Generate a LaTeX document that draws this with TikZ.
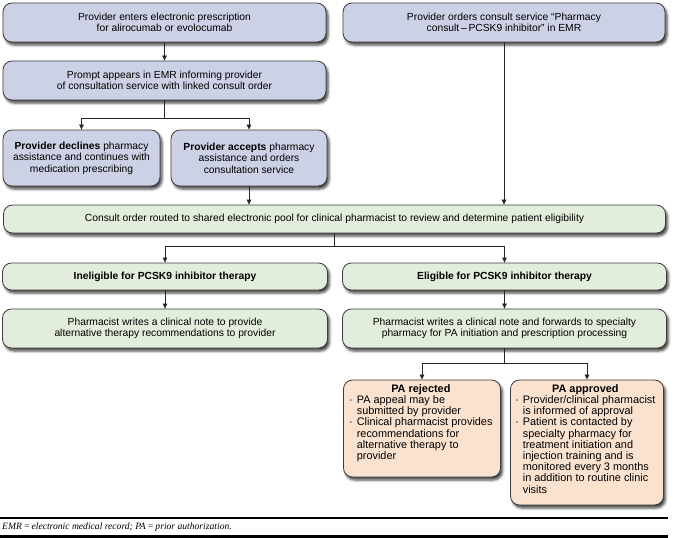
\documentclass[tikz,border=0pt]{standalone}
\usepackage{fontspec}
\setmainfont{Liberation Sans}
\newfontfamily\notefont{Liberation Serif}
\usetikzlibrary{arrows.meta,shadows.blur}
\definecolor{bluefill}{RGB}{204,209,229}
\definecolor{greenfill}{RGB}{227,237,219}
\definecolor{orangefill}{RGB}{250,226,207}
\definecolor{boxline}{RGB}{60,60,60}
\tikzset{
  box/.style={draw=boxline, line width=0.8pt, rounded corners=9pt, align=center, inner sep=2pt,
    font=\fontsize{10.3}{11.6}\selectfont,
    blur shadow={shadow xshift=2pt, shadow yshift=-3pt, shadow blur radius=2.5pt, shadow opacity=75}},
  bluebox/.style={box, fill=bluefill},
  greenbox/.style={box, fill=greenfill},
  orangebox/.style={box, fill=orangefill},
  arr/.style={-{Triangle[length=5pt,width=4.5pt]}, line width=0.7pt, draw=black!85},
  patext/.style={anchor=north west, inner sep=0pt, align=left, font=\fontsize{10.9}{11.1}\selectfont}
}
\newcommand{\pabul}{\textperiodcentered}
\begin{document}
\begin{tikzpicture}[x=1pt,y=-1pt]
\useasboundingbox (0,0) rectangle (673,538);
\node[bluebox, minimum width=323pt, minimum height=39pt] (A) at (164.5,22.5)
  {Provider enters electronic prescription\\for alirocumab or evolocumab};
\node[bluebox, minimum width=323pt, minimum height=39pt] (B) at (164.5,80.5)
  {Prompt appears in EMR informing provider\\of consultation service with linked consult order};
\node[bluebox, minimum width=157pt, minimum height=56pt] (C) at (81.5,158)
  {\textbf{Provider declines} pharmacy\\assistance and continues with\\medication prescribing};
\node[bluebox, minimum width=156pt, minimum height=56pt] (D) at (249,158)
  {\textbf{Provider accepts} pharmacy\\assistance and orders\\consultation service};
\node[bluebox, minimum width=322pt, minimum height=39pt] (E) at (504,22.5)
  {Provider orders consult service “Pharmacy\\consult\,–\,PCSK9 inhibitor” in EMR};
\node[greenbox, minimum width=662pt, minimum height=28pt] (F) at (334.5,219)
  {Consult order routed to shared electronic pool for clinical pharmacist to review and determine patient eligibility};
\node[greenbox, minimum width=325pt, minimum height=27pt] (G) at (165,276.5)
  {\textbf{Ineligible for PCSK9 inhibitor therapy}};
\node[greenbox, minimum width=324pt, minimum height=27pt] (H) at (504.5,276.5)
  {\textbf{Eligible for PCSK9 inhibitor therapy}};
\node[greenbox, minimum width=325pt, minimum height=39pt] (I) at (165,328.5)
  {Pharmacist writes a clinical note to provide\\alternative therapy recommendations to provider};
\node[greenbox, minimum width=324pt, minimum height=39pt] (J) at (504.5,328.5)
  {Pharmacist writes a clinical note and forwards to specialty\\pharmacy for PA initiation and prescription processing};
\node[orangebox, minimum width=157pt, minimum height=97pt] (K) at (422,428.5) {};
\node[orangebox, minimum width=153pt, minimum height=125pt] (L) at (587,442.5) {};
\node[patext] (Kt) at (349,384) {%
  \begin{tabular}{@{}l@{\hspace{4pt}}l@{}}
  \multicolumn{2}{c}{\textbf{PA rejected}}\\
  \pabul & PA appeal may be\\
         & submitted by provider\\
  \pabul & Clinical pharmacist provides\\
         & recommendations for\\
         & alternative therapy to\\
         & provider
  \end{tabular}};
\node[patext] (Lt) at (515,384) {%
  \begin{tabular}{@{}l@{\hspace{4pt}}l@{}}
  \multicolumn{2}{c}{\textbf{PA approved}}\\
  \pabul & Provider/clinical pharmacist\\
         & is informed of approval\\
  \pabul & Patient is contacted by\\
         & specialty pharmacy for\\
         & treatment initiation and\\
         & injection training and is\\
         & monitored every 3 months\\
         & in addition to routine clinic\\
         & visits
  \end{tabular}};
% connectors
\draw[arr] (A) -- (B);
\draw[arr] (B.south) -- ++(0,18) -| (C.north);
\draw[arr] (B.south) -- ++(0,18) -| (D.north);
\draw[arr] (D.south) -- (D.south |- F.north);
\draw[arr] (E.south) -- (E.south |- F.north);
\draw[arr] (F.south) -- ++(0,13) -| (G.north);
\draw[arr] (F.south) -- ++(0,13) -| (H.north);
\draw[arr] (G) -- (I);
\draw[arr] (H) -- (J);
\draw[arr] (J.south) -- ++(0,15) -| (K.north);
\draw[arr] (J.south) -- ++(0,15) -| (L.north);
% footer
\coordinate (r1) at (0,518);
\coordinate (r2) at (668,518);
\draw[line width=1.2pt] (r1) -- (r2);
\node[anchor=west, inner sep=0pt, font=\notefont\itshape\fontsize{9.6}{10}\selectfont] (fn) at (2,527)
  {EMR\,=\,electronic medical record; PA\,=\,prior authorization.};
\fill (0,535) rectangle (668,538.5);
\end{tikzpicture}
\end{document}
